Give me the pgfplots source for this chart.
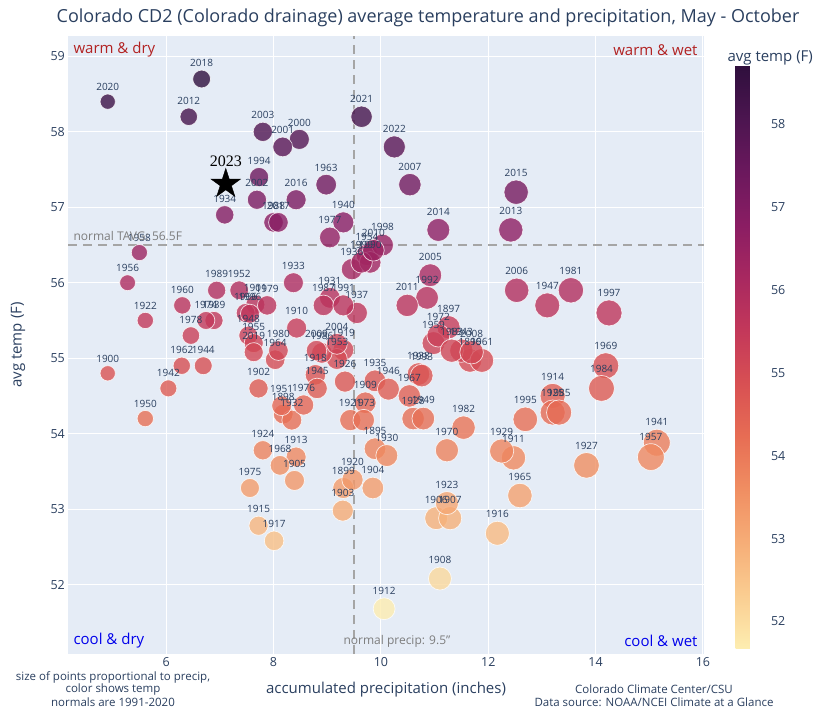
\documentclass[border=0pt]{standalone}
\usepackage{fontspec}
\setmainfont{Open Sans}
\newfontfamily\serifz{Liberation Serif}
\usepackage{pgfplots}
\usepackage{pgfplotstable}
\pgfplotsset{compat=1.18}
\definecolor{txt}{HTML}{2A3F5F}
\definecolor{plotbg}{HTML}{E5ECF6}
\definecolor{warmc}{RGB}{178,34,34}
\definecolor{coolc}{RGB}{0,0,235}
\definecolor{dashc}{RGB}{165,165,165}
\definecolor{annc}{RGB}{125,125,125}

\pgfdeclareplotmark{fivestar}{%
  \pgfpathmoveto{\pgfpointpolar{90}{\pgfplotmarksize}}%
  \pgfpathlineto{\pgfpointpolar{126}{0.382\pgfplotmarksize}}%
  \pgfpathlineto{\pgfpointpolar{162}{\pgfplotmarksize}}%
  \pgfpathlineto{\pgfpointpolar{198}{0.382\pgfplotmarksize}}%
  \pgfpathlineto{\pgfpointpolar{234}{\pgfplotmarksize}}%
  \pgfpathlineto{\pgfpointpolar{270}{0.382\pgfplotmarksize}}%
  \pgfpathlineto{\pgfpointpolar{306}{\pgfplotmarksize}}%
  \pgfpathlineto{\pgfpointpolar{342}{0.382\pgfplotmarksize}}%
  \pgfpathlineto{\pgfpointpolar{18}{\pgfplotmarksize}}%
  \pgfpathlineto{\pgfpointpolar{54}{0.382\pgfplotmarksize}}%
  \pgfpathclose
  \pgfusepathqfillstroke
}

\pgfplotstableread{
x y yr
9.89 53.80 1895
11.66 54.97 1896
11.26 55.41 1897
8.18 54.26 1898
9.30 53.28 1899
4.91 54.80 1900
7.66 55.71 1901
7.72 54.60 1902
9.29 52.98 1903
9.85 53.28 1904
8.39 53.38 1905
11.03 52.88 1906
11.29 52.88 1907
11.10 52.08 1908
9.71 54.41 1909
8.43 55.40 1910
12.47 53.68 1911
10.06 51.68 1912
8.42 53.69 1913
13.20 54.50 1914
7.72 52.78 1915
12.17 52.68 1916
8.01 52.58 1917
8.78 54.78 1918
9.30 55.11 1919
9.47 53.39 1920
9.43 54.18 1921
5.61 55.50 1922
11.23 53.08 1923
7.80 53.78 1924
13.20 54.28 1925
9.33 54.69 1926
13.83 53.58 1927
10.60 54.20 1928
12.25 53.77 1929
10.11 53.71 1930
9.05 55.80 1931
8.34 54.18 1932
8.37 56.00 1933
7.09 56.90 1934
9.89 54.70 1935
9.46 56.18 1936
9.55 55.60 1937
10.70 54.79 1938
6.89 55.50 1939
9.30 56.80 1940
15.14 53.88 1941
6.04 54.60 1942
11.50 55.10 1943
6.69 54.90 1944
8.81 54.60 1945
10.14 54.59 1946
13.10 55.70 1947
7.53 55.30 1948
10.79 54.20 1949
5.61 54.20 1950
8.15 54.37 1951
7.36 55.90 1952
9.18 54.99 1953
9.74 56.37 1954
7.63 55.20 1955
5.28 56.00 1956
15.03 53.69 1957
5.50 56.40 1958
10.98 55.20 1959
6.30 55.70 1960
11.88 54.97 1961
6.29 54.90 1962
8.98 57.30 1963
8.03 54.98 1964
12.59 53.18 1965
7.48 55.60 1966
10.53 54.50 1967
8.12 53.58 1968
14.19 54.90 1969
11.23 53.78 1970
11.07 55.30 1972
9.68 54.18 1973
6.74 55.50 1974
7.56 53.28 1975
8.56 54.38 1976
9.05 56.60 1977
6.46 55.30 1978
7.88 55.70 1979
8.09 55.10 1980
13.54 55.90 1981
11.54 54.08 1982
11.32 55.10 1983
14.11 54.60 1984
13.32 54.28 1985
8.90 55.07 1986
8.93 55.70 1987
8.00 56.80 1988
6.94 55.90 1989
9.80 56.27 1990
9.30 55.70 1991
10.86 55.80 1992
10.76 54.77 1993
7.73 57.40 1994
12.69 54.19 1995
7.56 55.59 1996
14.25 55.60 1997
10.03 56.50 1998
9.64 56.27 1999
8.48 57.90 2000
8.17 57.80 2001
7.69 57.10 2002
7.80 58.00 2003
9.18 55.19 2004
10.92 56.10 2005
12.53 55.90 2006
10.54 57.30 2007
11.69 55.08 2008
8.80 55.10 2009
9.86 56.43 2010
10.49 55.70 2011
6.42 58.20 2012
12.42 56.70 2013
11.07 56.70 2014
12.52 57.20 2015
8.42 57.10 2016
8.09 56.80 2017
6.66 58.70 2018
7.63 55.08 2019
4.91 58.40 2020
9.64 58.20 2021
10.25 57.80 2022
}\data

\begin{document}
\begin{tikzpicture}[x=1pt,y=1pt]
\useasboundingbox (0,0) rectangle (837,710);
\begin{axis}[
  at={(68pt,56pt)}, anchor=south west,
  scale only axis, width=636pt, height=618pt,
  xmin=4.17, xmax=16.02, ymin=51.08, ymax=59.27,
  axis background/.style={fill=plotbg},
  axis line style={draw=none},
  major tick length=0pt,
  grid=major, grid style={white, line width=1pt},
  xtick={6,8,10,12,14,16}, ytick={52,53,54,55,56,57,58,59},
  tick label style={font=\fontsize{12.5}{14}\selectfont, text=txt},
  xticklabel style={inner sep=3pt},
  yticklabel style={inner sep=3pt},
  /pgf/number format/assume math mode=true,
  colormap={matter}{rgb255=(253,237,176) rgb255=(250,205,145) rgb255=(246,173,119) rgb255=(240,142,98) rgb255=(231,109,84) rgb255=(216,80,83) rgb255=(195,56,90) rgb255=(168,40,96) rgb255=(138,29,99) rgb255=(107,24,93) rgb255=(76,21,80) rgb255=(47,15,61)},
  point meta min=51.68, point meta max=58.70,
  colorbar,
  colorbar style={
    at={(parent axis.north east)}, anchor=north west,
    xshift=23pt, yshift=-30pt,
    scale only axis, width=30pt, height=582pt,
    axis line style={draw=none}, major tick length=0pt, grid=none,
    ytick={52,53,54,55,56,57,58},
    yticklabel style={font=\fontsize{12.5}{14}\selectfont, text=txt, xshift=2pt},
    /pgf/number format/assume math mode=true,
  },
]
\addplot[scatter, only marks, mark=*,
  point meta=explicit,
  visualization depends on={\thisrow{x} \as \pp},
  scatter/use mapped color={draw=white, fill=mapped color, fill opacity=0.8, draw opacity=0.8, line width=0.7pt},
  scatter/@pre marker code/.append style={/tikz/mark size={3.45*sqrt(\pp)}},
] table[x=x, y=y, meta=y] {\data};

\draw[dashc, line width=1.8pt, dash pattern=on 9pt off 6pt] (axis cs:9.5,51.08) -- (axis cs:9.5,59.27);
\draw[dashc, line width=1.8pt, dash pattern=on 9pt off 6pt] (axis cs:4.17,56.5) -- (axis cs:16.02,56.5);

\addplot[only marks, mark=none,
  point meta=explicit symbolic,
  visualization depends on={\thisrow{x} \as \pp},
  nodes near coords,
  every node near coord/.append style={anchor=south, inner sep=0pt, font=\fontsize{10}{11}\selectfont, text=txt, yshift={3.45*sqrt(\pp)+3}},
] table[x=x, y=y, meta=yr] {\data};

\addplot[only marks, mark=fivestar, mark size=15.5pt, draw=black, fill=black] coordinates {(7.11,57.31)};
\node[anchor=base, font=\serifz\fontsize{16}{17}\selectfont, text=black] at (axis cs:7.11,57.31) [yshift=17pt] {2023};
\end{axis}

\node[font=\fontsize{18}{20}\selectfont, text=txt] at (428,692) {Colorado CD2 (Colorado drainage) average temperature and precipitation, May - October};
\node[font=\fontsize{15}{17}\selectfont, text=txt, rotate=90] at (18,365) {avg temp (F)};
\node[font=\fontsize{15}{17}\selectfont, text=txt] at (386,20) {accumulated precipitation (inches)};
\node[font=\fontsize{15}{17}\selectfont, text=txt, anchor=west] at (724,652) {avg temp (F)};

\node[font=\fontsize{15}{17}\selectfont, text=warmc, anchor=west] at (70,660) {warm \& dry};
\node[font=\fontsize{15}{17}\selectfont, text=warmc, anchor=east] at (701,660) {warm \& wet};
\node[font=\fontsize{15}{17}\selectfont, text=coolc, anchor=west] at (70,69) {cool \& dry};
\node[font=\fontsize{15}{17}\selectfont, text=coolc, anchor=east] at (701,69) {cool \& wet};
\node[font=\fontsize{12}{14}\selectfont, text=annc, anchor=west] at (70,474) {normal TAVG: 56.5F};
\node[font=\fontsize{12}{14}\selectfont, text=annc, anchor=west] at (340,69) {normal precip: 9.5"};

\node[font=\fontsize{11.5}{13}\selectfont, text=txt] at (113,33) {size of points proportional to precip,};
\node[font=\fontsize{11.5}{13}\selectfont, text=txt] at (113,20) {color shows temp};
\node[font=\fontsize{11.5}{13}\selectfont, text=txt] at (113,8) {normals are 1991-2020};
\node[font=\fontsize{11.5}{13}\selectfont, text=txt] at (654,21) {Colorado Climate Center/CSU};
\node[font=\fontsize{11.5}{13}\selectfont, text=txt] at (654,8) {Data source: NOAA/NCEI Climate at a Glance};
\end{tikzpicture}
\end{document}
